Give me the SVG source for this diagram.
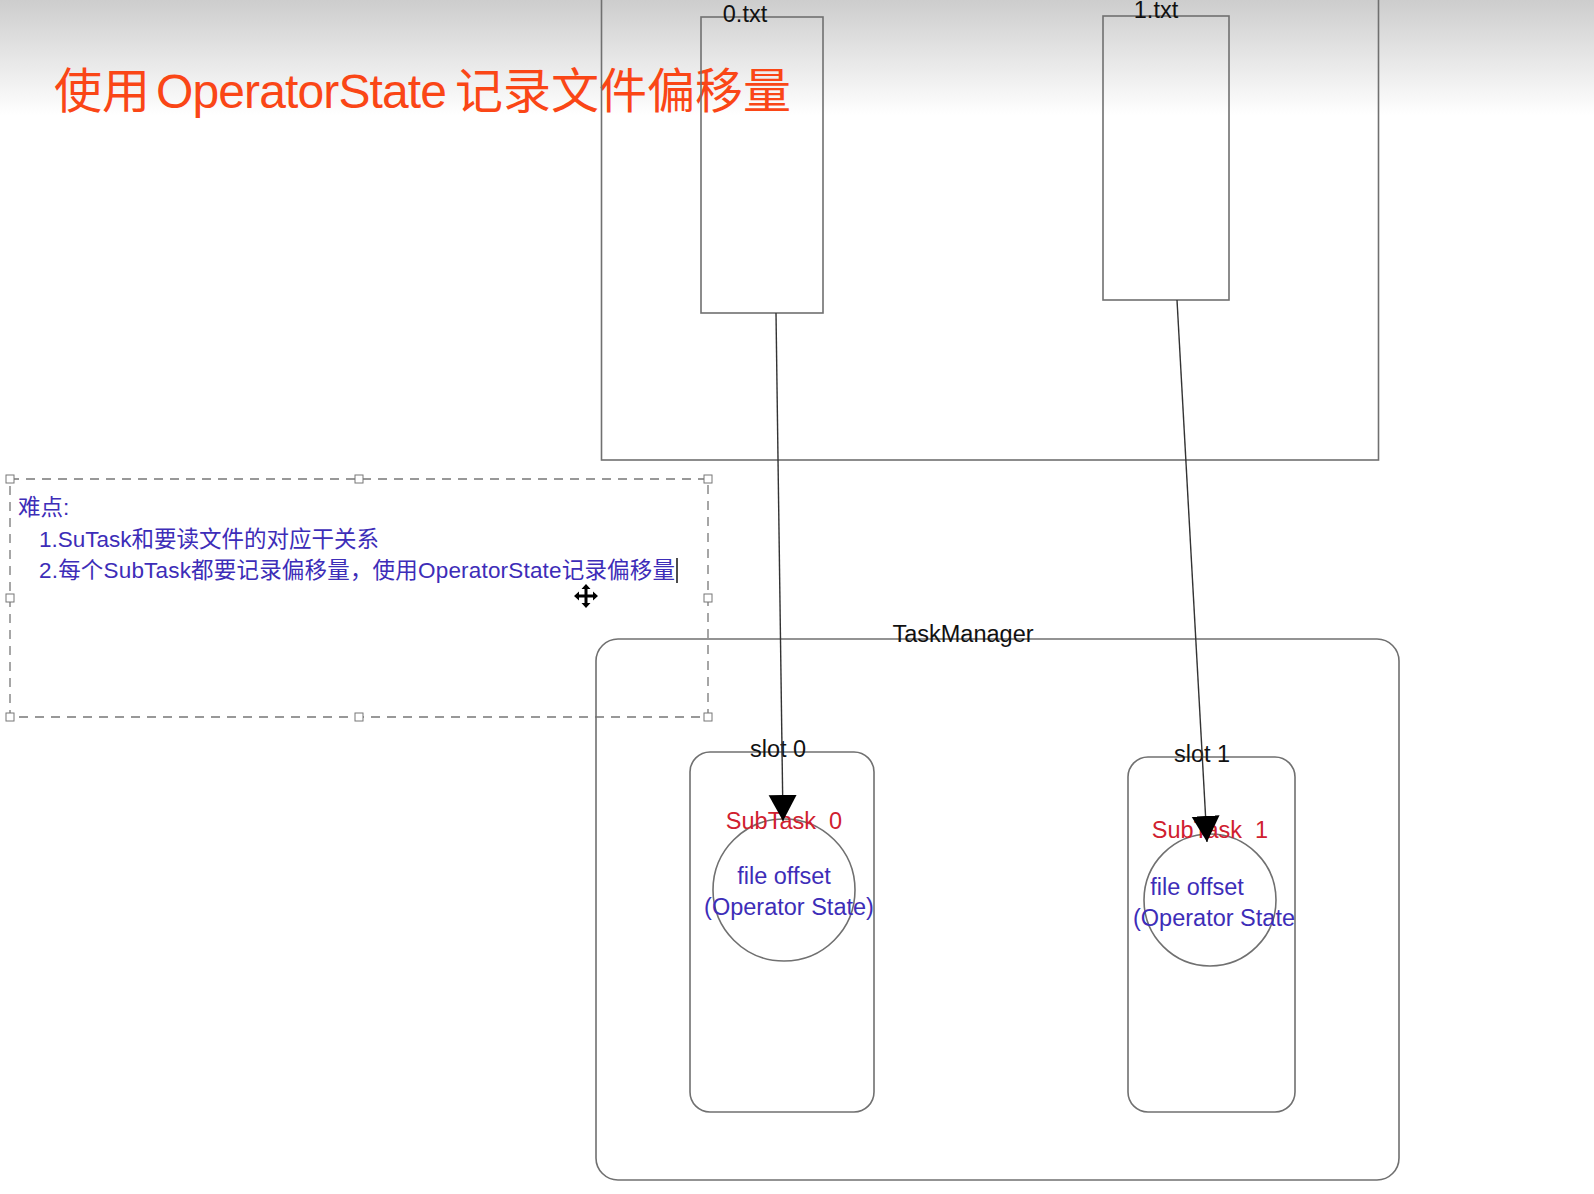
<svg xmlns="http://www.w3.org/2000/svg" width="1594" height="1194" viewBox="0 0 1594 1194">
<defs>
<linearGradient id="bg" x1="0" y1="0" x2="0" y2="1">
<stop offset="0" stop-color="#cdcdcd"/>
<stop offset="1" stop-color="#ffffff"/>
</linearGradient>
<marker id="arrow" markerUnits="userSpaceOnUse" markerWidth="28" markerHeight="30" refX="26" refY="14" orient="auto">
<path d="M0,0 L26,14 L0,28 z" fill="#000"/>
</marker>
<style>
.box{fill:none;stroke:#707070;stroke-width:1.6}
.lbl{font-family:"Liberation Sans","Noto Sans CJK SC",sans-serif;font-size:23.5px;fill:#111;text-anchor:middle}
.red{font-family:"Liberation Sans","Noto Sans CJK SC",sans-serif;font-size:23.5px;fill:#d0202f;text-anchor:middle}
.blue{font-family:"Liberation Sans","Noto Sans CJK SC",sans-serif;font-size:23.5px;fill:#3d2db8;text-anchor:middle}
.note{font-family:"Liberation Sans","Noto Sans CJK SC",sans-serif;font-size:22.5px;fill:#3d2db8}
.title{font-family:"Liberation Sans","Noto Sans CJK SC",sans-serif;font-size:48px;fill:#fa4616}
.conn{stroke:#333;stroke-width:1.4;fill:none}
.handle{fill:#fff;stroke:#777;stroke-width:1}
</style>
</defs>
<rect x="0" y="0" width="1594" height="1194" fill="#fff"/>
<rect x="0" y="0" width="1594" height="115" fill="url(#bg)"/>

<g id="title">
<text class="title" y="108"><tspan x="54">使用</tspan><tspan x="156" textLength="291">OperatorState</tspan><tspan x="455">记录文件偏移量</tspan></text>
</g>

<g id="files">
<rect class="box" x="601.5" y="-10" width="777" height="470"/>
</g>
<g id="file0">
<rect class="box" x="701" y="17" width="122" height="296"/>
<text class="lbl" x="745" y="22">0.txt</text>
</g>
<g id="file1">
<rect class="box" x="1103" y="16" width="126" height="284"/>
<text class="lbl" x="1156" y="18">1.txt</text>
</g>

<g id="note">
<rect x="10" y="479" width="698" height="238" fill="none" stroke="#777" stroke-width="1.3" stroke-dasharray="9,7"/>
<rect class="handle" x="6" y="475" width="8" height="8"/>
<rect class="handle" x="355" y="475" width="8" height="8"/>
<rect class="handle" x="704" y="475" width="8" height="8"/>
<rect class="handle" x="6" y="594" width="8" height="8"/>
<rect class="handle" x="704" y="594" width="8" height="8"/>
<rect class="handle" x="6" y="713" width="8" height="8"/>
<rect class="handle" x="355" y="713" width="8" height="8"/>
<rect class="handle" x="704" y="713" width="8" height="8"/>
<text class="note" x="18" y="515">难点:</text>
<text class="note" x="39" y="547">1.SuTask和要读文件的对应干关系</text>
<text class="note" x="39" y="578" textLength="636">2.每个SubTask都要记录偏移量，使用OperatorState记录偏移量</text>
<line x1="677" y1="558" x2="677" y2="583" stroke="#111" stroke-width="1.5"/>
<g transform="translate(586,596)" fill="#000" stroke="none">
<path d="M-1.5,-7 h3 v5.5 h5.5 v3 h-5.5 v5.5 h-3 v-5.5 h-5.5 v-3 h5.5 z"/>
<path d="M0,-12 L4.5,-7 L-4.5,-7 z M0,12 L4.5,7 L-4.5,7 z M-12,0 L-7,4.5 L-7,-4.5 z M12,0 L7,4.5 L7,-4.5 z"/>
</g>
</g>

<g id="taskmanager">
<rect class="box" x="596" y="639" width="803" height="541" rx="22" ry="22"/>
<text class="lbl" x="963" y="642">TaskManager</text>
</g>

<g id="slot0">
<rect class="box" x="690" y="752" width="184" height="360" rx="20" ry="20"/>
<text class="lbl" x="778" y="757">slot 0</text>
</g>
<g id="subtask0">
<circle class="box" cx="784" cy="890" r="71"/>
<text class="red" x="784" y="829" xml:space="preserve">SubTask  0</text>
<text class="blue" x="784" y="884">file offset</text>
<text class="blue" x="789" y="915">(Operator State)</text>
</g>

<g id="slot1">
<rect class="box" x="1128" y="757" width="167" height="355" rx="20" ry="20"/>
<text class="lbl" x="1202" y="762">slot 1</text>
</g>
<g id="subtask1">
<circle class="box" cx="1210" cy="900" r="66"/>
<text class="red" x="1210" y="838" xml:space="preserve">SubTask  1</text>
<text class="blue" x="1197" y="895">file offset</text>
<text class="blue" x="1214" y="926">(Operator State</text>
</g>

<g id="connectors">
<line class="conn" x1="776" y1="313" x2="783" y2="821" marker-end="url(#arrow)"/>
<line class="conn" x1="1177" y1="300" x2="1207" y2="842" marker-end="url(#arrow)"/>
</g>
</svg>
